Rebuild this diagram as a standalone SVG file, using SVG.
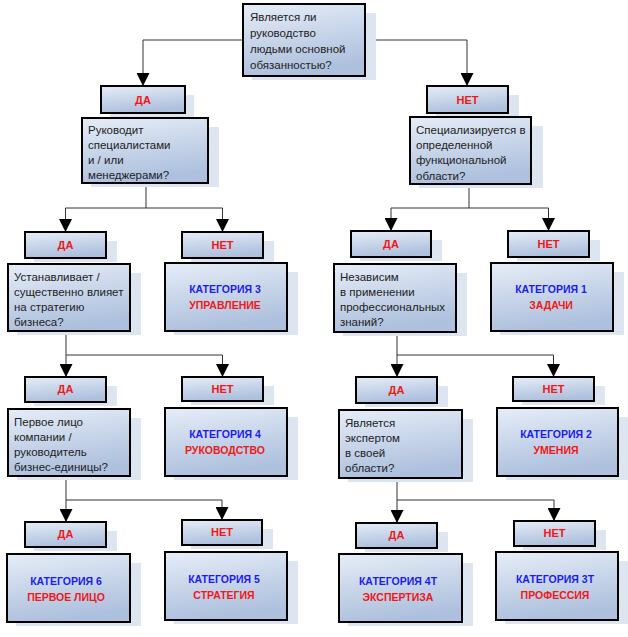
<svg xmlns="http://www.w3.org/2000/svg" width="628" height="637" viewBox="0 0 628 637">
<defs>
<linearGradient id="g" x1="0" y1="0" x2="0.25" y2="1">
<stop offset="0" stop-color="#e6edf7"/>
<stop offset="1" stop-color="#adc0dd"/>
</linearGradient>
<marker id="ar" markerUnits="userSpaceOnUse" markerWidth="13" markerHeight="13" refX="13" refY="6.5" orient="auto">
<path d="M0,0 L13,6.5 L0,13 z" fill="#000"/>
</marker>
<style>
.sh{fill:#dde5f1}
.bx{fill:url(#g);stroke:#000;stroke-width:2}
.q{font-family:"Liberation Sans",Arial,sans-serif;font-size:11.5px;fill:#222}
.yn{font-family:"Liberation Sans",Arial,sans-serif;font-size:11px;font-weight:bold;fill:#f01818;text-anchor:middle}
.cb{font-family:"Liberation Sans",Arial,sans-serif;font-size:10.5px;font-weight:bold;fill:#1c1cf0;text-anchor:middle}
.cr{font-family:"Liberation Sans",Arial,sans-serif;font-size:10.5px;font-weight:bold;fill:#f01818;text-anchor:middle}
.ln{fill:none;stroke:#333;stroke-width:1}
.la{fill:none;stroke:#333;stroke-width:1;marker-end:url(#ar)}
</style>
</defs>
<rect width="628" height="637" fill="#fff"/>

<g id="connectors">
<path class="ln" d="M243,40 H143 M365,40 H467"/>
<path class="la" d="M143,40 V86"/>
<path class="la" d="M467,40 V86"/>

<path class="ln" d="M146,183 V208 M65.5,208 H222.5"/>
<path class="la" d="M65.5,208 V232"/>
<path class="la" d="M222.5,208 V232"/>
<path class="ln" d="M469,184 V208 M391,208 H548.5"/>
<path class="la" d="M391,208 V231"/>
<path class="la" d="M548.5,208 V231"/>

<path class="ln" d="M66,331 V355 M66,355 H222.5"/>
<path class="la" d="M66,355 V377"/>
<path class="la" d="M222.5,355 V377"/>
<path class="ln" d="M397,332 V355 M397,355 H553.5"/>
<path class="la" d="M397,355 V377"/>
<path class="la" d="M553.5,355 V377"/>

<path class="ln" d="M66,476 V500 M66,500 H222"/>
<path class="la" d="M66,500 V522"/>
<path class="la" d="M222,500 V520"/>
<path class="ln" d="M397,478 V500 M397,500 H554"/>
<path class="la" d="M397,500 V523"/>
<path class="la" d="M554,500 V521"/>
</g>

<g id="root">
<rect class="sh" x="252" y="13" width="124" height="67"/>
<rect class="bx" x="243" y="4" width="122" height="72"/>
<text class="q" x="250" y="21">Является ли</text>
<text class="q" x="250" y="37">руководство</text>
<text class="q" x="250" y="53">людьми основной</text>
<text class="q" x="250" y="69">обязанностью?</text>
</g>

<g id="yes1">
<rect class="sh" x="110" y="95" width="84" height="22"/>
<rect class="bx" x="101" y="86" width="84" height="27"/>
<text class="yn" x="143" y="104">ДА</text>
</g>
<g id="no1">
<rect class="sh" x="436" y="95" width="83" height="22"/>
<rect class="bx" x="427" y="86" width="81" height="27"/>
<text class="yn" x="467.5" y="104">НЕТ</text>
</g>

<g id="q_manage">
<rect class="sh" x="91" y="127" width="128" height="60"/>
<rect class="bx" x="82" y="118" width="126" height="65"/>
<text class="q" x="88" y="134">Руководит</text>
<text class="q" x="88" y="149">специалистами</text>
<text class="q" x="88" y="164">и / или</text>
<text class="q" x="88" y="179">менеджерами?</text>
</g>
<g id="q_special">
<rect class="sh" x="419" y="126" width="124" height="62"/>
<rect class="bx" x="410" y="117" width="121" height="67"/>
<text class="q" x="416" y="134">Специализируется в</text>
<text class="q" x="416" y="149">определенной</text>
<text class="q" x="416" y="164">функциональной</text>
<text class="q" x="416" y="180">области?</text>
</g>

<g id="yes2l">
<rect class="sh" x="34" y="241" width="83" height="21"/>
<rect class="bx" x="25" y="232" width="81" height="26"/>
<text class="yn" x="65.5" y="249">ДА</text>
</g>
<g id="no2l">
<rect class="sh" x="191" y="241" width="83" height="21"/>
<rect class="bx" x="182" y="232" width="81" height="26"/>
<text class="yn" x="222.5" y="249">НЕТ</text>
</g>
<g id="q_strategy">
<rect class="sh" x="17" y="273" width="124" height="62"/>
<rect class="bx" x="8" y="264" width="122" height="67"/>
<text class="q" x="14" y="281">Устанавливает /</text>
<text class="q" x="14" y="296">существенно влияет</text>
<text class="q" x="14" y="311">на стратегию</text>
<text class="q" x="14" y="326">бизнеса?</text>
</g>
<g id="cat3">
<rect class="sh" x="174" y="272" width="124" height="63"/>
<rect class="bx" x="165" y="263" width="122" height="68"/>
<text class="cb" x="225" y="293">КАТЕГОРИЯ 3</text>
<text class="cr" x="225" y="309">УПРАВЛЕНИЕ</text>
</g>

<g id="yes2r">
<rect class="sh" x="360" y="240" width="82" height="21"/>
<rect class="bx" x="351" y="231" width="80" height="26"/>
<text class="yn" x="391" y="248">ДА</text>
</g>
<g id="no2r">
<rect class="sh" x="517" y="240" width="83" height="21"/>
<rect class="bx" x="508" y="231" width="81" height="26"/>
<text class="yn" x="548.5" y="248">НЕТ</text>
</g>
<g id="q_indep">
<rect class="sh" x="343" y="273" width="124" height="63"/>
<rect class="bx" x="334" y="264" width="122" height="68"/>
<text class="q" x="340" y="281">Независим</text>
<text class="q" x="340" y="296">в применении</text>
<text class="q" x="340" y="311">профессиональных</text>
<text class="q" x="340" y="326">знаний?</text>
</g>
<g id="cat1">
<rect class="sh" x="500" y="272" width="124" height="63"/>
<rect class="bx" x="491" y="263" width="122" height="68"/>
<text class="cb" x="551" y="293">КАТЕГОРИЯ 1</text>
<text class="cr" x="551" y="309">ЗАДАЧИ</text>
</g>

<g id="yes3l">
<rect class="sh" x="34" y="386" width="83" height="20"/>
<rect class="bx" x="25" y="377" width="81" height="25"/>
<text class="yn" x="65.5" y="393">ДА</text>
</g>
<g id="no3l">
<rect class="sh" x="191" y="386" width="83" height="19"/>
<rect class="bx" x="182" y="377" width="81" height="24"/>
<text class="yn" x="222.5" y="393">НЕТ</text>
</g>
<g id="q_first">
<rect class="sh" x="17" y="418" width="124" height="62"/>
<rect class="bx" x="8" y="409" width="122" height="67"/>
<text class="q" x="14" y="426">Первое лицо</text>
<text class="q" x="14" y="441">компании /</text>
<text class="q" x="14" y="456">руководитель</text>
<text class="q" x="14" y="471">бизнес-единицы?</text>
</g>
<g id="cat4">
<rect class="sh" x="174" y="417" width="124" height="63"/>
<rect class="bx" x="165" y="408" width="122" height="68"/>
<text class="cb" x="225" y="438">КАТЕГОРИЯ 4</text>
<text class="cr" x="225" y="454">РУКОВОДСТВО</text>
</g>

<g id="yes3r">
<rect class="sh" x="365" y="386" width="83" height="21"/>
<rect class="bx" x="356" y="377" width="81" height="26"/>
<text class="yn" x="396.5" y="394">ДА</text>
</g>
<g id="no3r">
<rect class="sh" x="522" y="386" width="83" height="19"/>
<rect class="bx" x="513" y="377" width="81" height="24"/>
<text class="yn" x="553.5" y="393">НЕТ</text>
</g>
<g id="q_expert">
<rect class="sh" x="348" y="419" width="125" height="63"/>
<rect class="bx" x="339" y="410" width="123" height="68"/>
<text class="q" x="345" y="427">Является</text>
<text class="q" x="345" y="442">экспертом</text>
<text class="q" x="345" y="457">в своей</text>
<text class="q" x="345" y="472">области?</text>
</g>
<g id="cat2">
<rect class="sh" x="506" y="417" width="123" height="63"/>
<rect class="bx" x="497" y="408" width="121" height="68"/>
<text class="cb" x="556" y="438">КАТЕГОРИЯ 2</text>
<text class="cr" x="556" y="454">УМЕНИЯ</text>
</g>

<g id="yes4l">
<rect class="sh" x="34" y="531" width="83" height="20"/>
<rect class="bx" x="25" y="522" width="81" height="25"/>
<text class="yn" x="65.5" y="538">ДА</text>
</g>
<g id="no4l">
<rect class="sh" x="191" y="529" width="82" height="20"/>
<rect class="bx" x="182" y="520" width="80" height="25"/>
<text class="yn" x="222" y="536">НЕТ</text>
</g>
<g id="cat6">
<rect class="sh" x="16" y="563" width="125" height="63"/>
<rect class="bx" x="7" y="554" width="123" height="68"/>
<text class="cb" x="66" y="585">КАТЕГОРИЯ 6</text>
<text class="cr" x="66" y="601">ПЕРВОЕ ЛИЦО</text>
</g>
<g id="cat5">
<rect class="sh" x="174" y="561" width="124" height="63"/>
<rect class="bx" x="165" y="552" width="122" height="68"/>
<text class="cb" x="224" y="583">КАТЕГОРИЯ 5</text>
<text class="cr" x="224" y="599">СТРАТЕГИЯ</text>
</g>

<g id="yes4r">
<rect class="sh" x="365" y="532" width="83" height="20"/>
<rect class="bx" x="356" y="523" width="81" height="25"/>
<text class="yn" x="396.5" y="539">ДА</text>
</g>
<g id="no4r">
<rect class="sh" x="523" y="530" width="83" height="20"/>
<rect class="bx" x="514" y="521" width="81" height="25"/>
<text class="yn" x="554.5" y="537">НЕТ</text>
</g>
<g id="cat4t">
<rect class="sh" x="348" y="563" width="125" height="63"/>
<rect class="bx" x="339" y="554" width="123" height="68"/>
<text class="cb" x="398" y="585">КАТЕГОРИЯ 4Т</text>
<text class="cr" x="398" y="601">ЭКСПЕРТИЗА</text>
</g>
<g id="cat3t">
<rect class="sh" x="505" y="561" width="123" height="63"/>
<rect class="bx" x="496" y="552" width="122" height="68"/>
<text class="cb" x="555" y="583">КАТЕГОРИЯ 3Т</text>
<text class="cr" x="555" y="599">ПРОФЕССИЯ</text>
</g>
</svg>
